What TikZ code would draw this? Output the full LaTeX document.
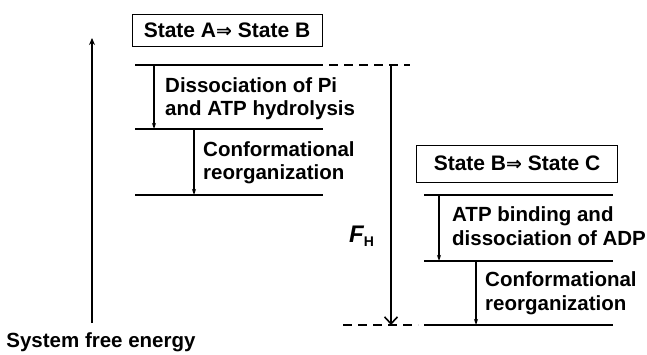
\documentclass[tikz,border=0pt]{standalone}
\usepackage{fontspec}
\setmainfont{Liberation Sans}
\newfontfamily\symfont{DejaVu Sans}
\usetikzlibrary{arrows.meta}
\begin{document}
\begin{tikzpicture}[x=1pt,y=-1pt,
  level/.style={line width=1.6pt},
  dashlevel/.style={line width=1.5pt,dash pattern=on 9pt off 6pt},
  step arrow/.style={line width=1.2pt,-{Stealth[length=6pt,width=4pt]}},
  lbl/.style={font=\fontsize{20.5}{23.5}\selectfont\bfseries,align=left,inner sep=0pt,anchor=base west},
  statebox/.style={draw,line width=0.8pt,font=\fontsize{21}{24}\selectfont\bfseries,inner sep=0pt,minimum height=#1}]
\useasboundingbox (0,0) rectangle (647,355);
% axis
\coordinate (ax0) at (92,323);
\coordinate (ax1) at (92,38);
\draw[line width=1.4pt,-{Stealth[length=7pt,width=6pt]}] (ax0) -- (ax1);
\node[font=\fontsize{20.5}{23}\selectfont\bfseries,inner sep=0pt] (sfe) at (101,342) {System free energy};
% state A -> B
\node[statebox=32pt,minimum width=190pt] (boxA) at (227,30) {State A{\symfont\fontsize{19}{20}\selectfont⇒} State B};
\coordinate (a1l) at (135,65); \coordinate (a1r) at (323,65);
\coordinate (a2l) at (135,129); \coordinate (a2r) at (323,129);
\coordinate (a3l) at (135,195); \coordinate (a3r) at (323,195);
\draw[level] (a1l) -- (a1r);
\draw[level] (a2l) -- (a2r);
\draw[level] (a3l) -- (a3r);
\coordinate (s1t) at (154,65); \coordinate (s1b) at (154,129);
\coordinate (s2t) at (194,129); \coordinate (s2b) at (194,195);
\draw[step arrow] (s1t) -- (s1b);
\draw[step arrow] (s2t) -- (s2b);
\node[lbl] (t1) at (165,116) {Dissociation of Pi\\and ATP hydrolysis};
\node[lbl] (t2) at (203,180) {Conformational\\reorganization};
% F_H
\coordinate (d1l) at (329,65); \coordinate (d1r) at (410,65);
\coordinate (d2l) at (343,325); \coordinate (d2r) at (418,325);
\draw[dashlevel] (d1l) -- (d1r);
\draw[dashlevel] (d2l) -- (d2r);
\coordinate (fht) at (391,65); \coordinate (fhb) at (391,325);
\draw[line width=1.3pt,-{Straight Barb[length=7pt,width=13pt,line width=1.6pt]}] (fht) -- (fhb);
\node[inner sep=0pt,anchor=base west] (fh) at (349,243) {\fontsize{24}{26}\selectfont\bfseries\itshape F\fontsize{14}{15}\selectfont\upshape\raisebox{-4pt}{H}};
% state B -> C
\node[statebox=37pt,minimum width=201pt] (boxB) at (517,163.5) {State B{\symfont\fontsize{19}{20}\selectfont⇒} State C};
\coordinate (b1l) at (424,195); \coordinate (b1r) at (613,195);
\coordinate (b2l) at (424,261); \coordinate (b2r) at (613,261);
\coordinate (b3l) at (424,325); \coordinate (b3r) at (613,325);
\draw[level] (b1l) -- (b1r);
\draw[level] (b2l) -- (b2r);
\draw[level] (b3l) -- (b3r);
\coordinate (s3t) at (439,195); \coordinate (s3b) at (439,261);
\coordinate (s4t) at (476,261); \coordinate (s4b) at (476,325);
\draw[step arrow] (s3t) -- (s3b);
\draw[step arrow] (s4t) -- (s4b);
\node[lbl] (t3) at (452,245) {ATP binding and\\dissociation of ADP};
\node[lbl] (t4) at (485,310) {Conformational\\reorganization};
\end{tikzpicture}
\end{document}
